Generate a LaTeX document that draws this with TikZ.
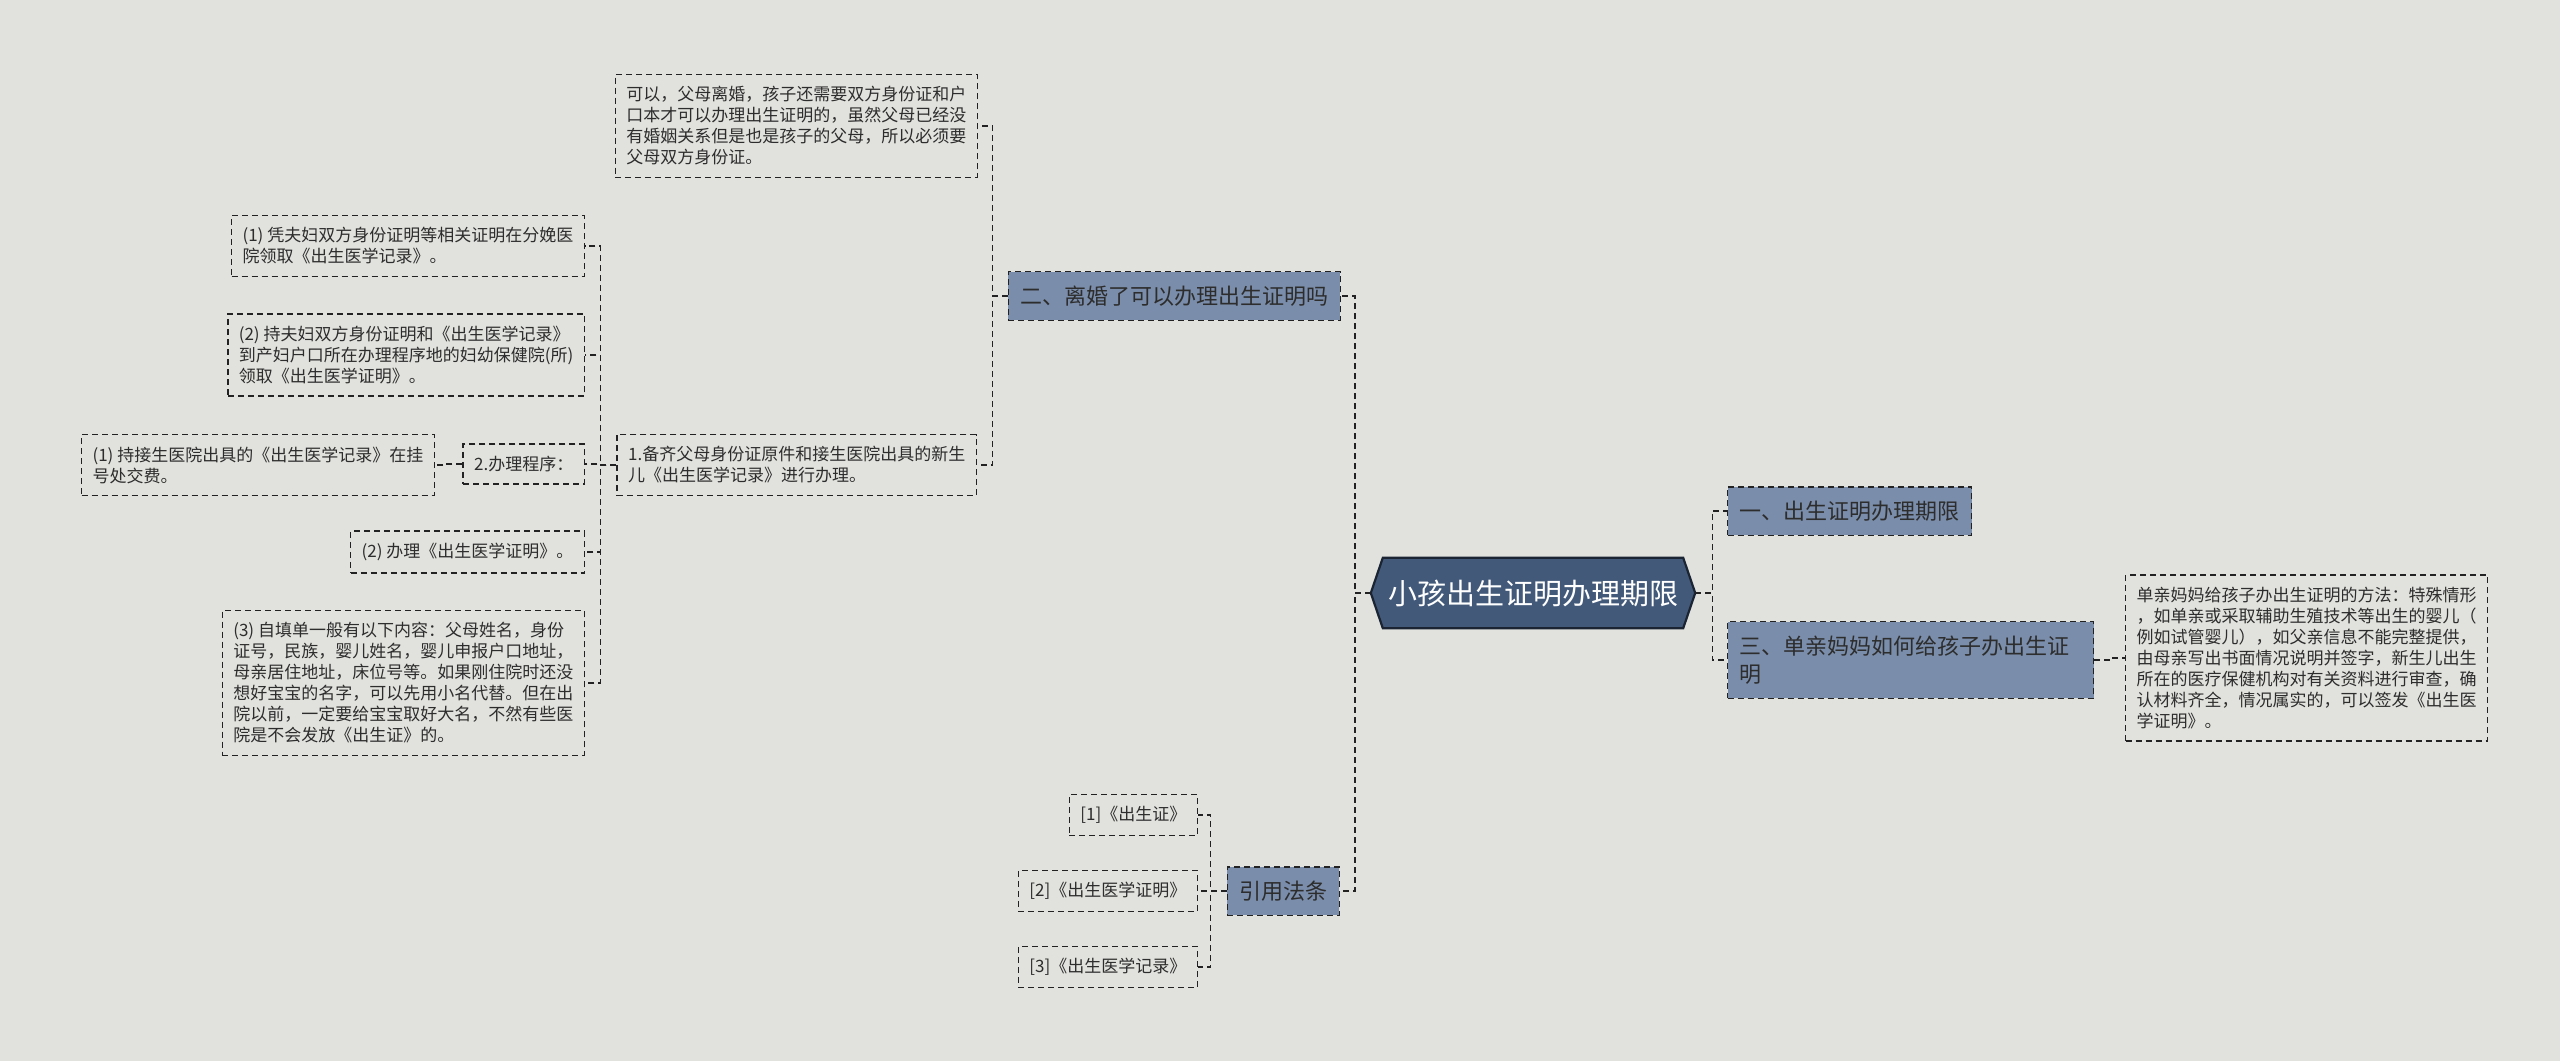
\documentclass[tikz,border=0pt]{standalone}
\usepackage{fontspec}
\setmainfont{Noto Sans CJK SC}
\usepackage{tikz}
\usetikzlibrary{positioning,calc,backgrounds}
\definecolor{paper}{RGB}{225,226,221}
\definecolor{topicblue}{RGB}{122,141,170}
\definecolor{rootblue}{RGB}{66,89,122}
\definecolor{rootedge}{RGB}{26,36,50}
\definecolor{ink}{RGB}{45,45,45}
\definecolor{edge}{RGB}{34,34,34}

\begin{document}
\begin{tikzpicture}[x=1pt,y=-1pt,
  link/.style={draw=edge,line width=1.4pt,dash pattern=on 6pt off 4pt},
  leaf/.style={link,text=ink,align=left,inner xsep=11pt,inner ysep=12pt,font=\fontsize{17pt}{21pt}\selectfont},
  topic/.style={leaf,fill=topicblue,inner xsep=12pt,inner ysep=14pt,font=\fontsize{22pt}{28pt}\selectfont},
  rootnode/.style={text=white,minimum width=300pt,minimum height=70pt,inner sep=0pt,font=\fontsize{29pt}{34pt}\selectfont}]
\useasboundingbox (0,0) rectangle (2560,1061);

\node[rootnode] (root) at (1533,593) {小孩出生证明办理期限};
\coordinate (rootL) at ([xshift=-12pt]root.west);
\coordinate (rootR) at ([xshift=12pt]root.east);

% right branch
\node[topic,anchor=west] (topicA) at (1727,511) {一、出生证明办理期限};
\node[topic,anchor=west,text width=342pt] (topicC) at (1727,660) {三、单亲妈妈如何给孩子办出生证\\明};
\node[leaf,anchor=west] (mumNote) at (2125,658) {单亲妈妈给孩子办出生证明的方法：特殊情形\\，如单亲或采取辅助生殖技术等出生的婴儿（\\例如试管婴儿），如父亲信息不能完整提供，\\由母亲写出书面情况说明并签字，新生儿出生\\所在的医疗保健机构对有关资料进行审查，确\\认材料齐全，情况属实的，可以签发《出生医\\学证明》。};
\draw[link] (rootR) -- ++(17,0) |- (topicA.west);
\draw[link] (rootR) -- ++(17,0) |- (topicC.west);
\draw[link] (topicC.east) -- ++(16,0) |- (mumNote.west);

% left branch
\node[topic,anchor=east] (topicB) at (1341,296) {二、离婚了可以办理出生证明吗};
\node[topic,anchor=east] (law) at (1340,891) {引用法条};
\draw[link] (rootL) -- ++(-16,0) |- (topicB.east);
\draw[link] (rootL) -- ++(-16,0) |- (law.east);

\node[leaf,anchor=east] (divorceNote) at (978,126) {可以，父母离婚，孩子还需要双方身份证和户\\口本才可以办理出生证明的，虽然父母已经没\\有婚姻关系但是也是孩子的父母，所以必须要\\父母双方身份证。};
\node[leaf,anchor=east] (prepare) at (977,465) {1.备齐父母身份证原件和接生医院出具的新生\\儿《出生医学记录》进行办理。};
\draw[link] (topicB.west) -- ++(-15,0) |- (divorceNote.east);
\draw[link] (topicB.west) -- ++(-15,0) |- (prepare.east);

\foreach \nm/\yy/\txt in {
  stepA/246/{(1) 凭夫妇双方身份证明等相关证明在分娩医\\院领取《出生医学记录》。},
  stepB/355/{(2) 持夫妇双方身份证明和《出生医学记录》\\到产妇户口所在办理程序地的妇幼保健院(所)\\领取《出生医学证明》。},
  proc/464/{2.办理程序：},
  stepC/552/{(2) 办理《出生医学证明》。},
  stepD/683/{(3) 自填单一般有以下内容：父母姓名，身份\\证号，民族，婴儿姓名，婴儿申报户口地址，\\母亲居住地址，床位号等。如果刚住院时还没\\想好宝宝的名字，可以先用小名代替。但在出\\院以前，一定要给宝宝取好大名，不然有些医\\院是不会发放《出生证》的。}}{
  \node[leaf,anchor=east] (\nm) at (585,\yy) {\txt};
  \draw[link] (prepare.west) -- ++(-16,0) |- (\nm.east);
}
\node[leaf,anchor=east] (hospital) at (435,465) {(1) 持接生医院出具的《出生医学记录》在挂\\号处交费。};
\draw[link] (proc.west) -- ++(-16,0) |- (hospital.east);

% references
\foreach \i/\yy/\txt in {A/815/{[1]《出生证》},B/891/{[2]《出生医学证明》},C/967/{[3]《出生医学记录》}}{
  \node[leaf,anchor=east] (law\i) at (1198,\yy) {\txt};
  \draw[link] (law.west) -- ++(-16,0) |- (law\i.east);
}

\begin{scope}[on background layer]
\fill[paper] (0,0) rectangle (2560,1061);
\filldraw[fill=rootblue,draw=rootedge,line width=2.2pt] (root.north west) -- (root.north east) -- (rootR) -- (root.south east) -- (root.south west) -- (rootL) -- cycle;
\end{scope}
\end{tikzpicture}
\end{document}
